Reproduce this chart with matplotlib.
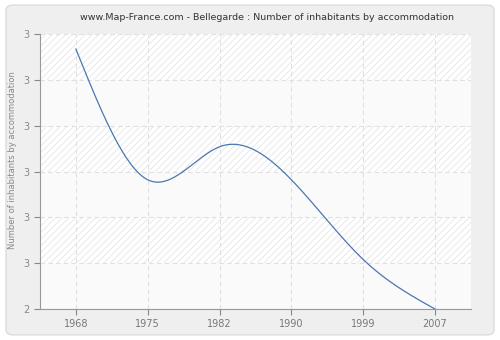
import numpy as np
import matplotlib
matplotlib.use("Agg")
import matplotlib.pyplot as plt
from matplotlib.patches import FancyBboxPatch, Rectangle

years = ["1968", "1975", "1982", "1990", "1999", "2007"]
values = [2.945, 2.47, 2.59, 2.47, 2.18, 2.0]
ytick_vals = [2.0, 2.1667, 2.3333, 2.5, 2.6667, 2.8333, 3.0]
ytick_labels = ["2", "3", "3", "3", "3", "3", "3"]


def natural_spline(x, y, n=300):
    # plain natural cubic spline, no scipy needed
    x = np.asarray(x, float)
    y = np.asarray(y, float)
    k = len(x)
    h = np.diff(x)
    A = np.zeros((k, k))
    b = np.zeros(k)
    A[0, 0] = A[-1, -1] = 1
    for i in range(1, k - 1):
        A[i, i - 1] = h[i - 1]
        A[i, i] = 2 * (h[i - 1] + h[i])
        A[i, i + 1] = h[i]
        b[i] = 3 * ((y[i + 1] - y[i]) / h[i] - (y[i] - y[i - 1]) / h[i - 1])
    c = np.linalg.solve(A, b)
    xs = np.linspace(x[0], x[-1], n)
    ys = np.empty_like(xs)
    for j, xv in enumerate(xs):
        i = min(np.searchsorted(x, xv, side="right") - 1, k - 2)
        d = (c[i + 1] - c[i]) / (3 * h[i])
        bb = (y[i + 1] - y[i]) / h[i] - h[i] * (2 * c[i] + c[i + 1]) / 3
        t = xv - x[i]
        ys[j] = y[i] + bb * t + c[i] * t ** 2 + d * t ** 3
    return xs, ys


fig = plt.figure(figsize=(5, 3.4), dpi=100)
fig.patch.set_facecolor("white")
fig.patches.append(FancyBboxPatch((0.012, 0.015), 0.976, 0.97,
                                  boxstyle="round,pad=0,rounding_size=0.015",
                                  transform=fig.transFigure, facecolor="#efefef",
                                  edgecolor="#dcdcdc", linewidth=1, zorder=-5))

ax = fig.add_axes([0.08, 0.091, 0.862, 0.809])
ax.set_facecolor("#fafafa")
plt.rcParams["hatch.linewidth"] = 0.6

x = np.arange(len(years))
ax.set_xlim(-0.5, len(years) - 0.5)
ax.set_ylim(ytick_vals[0], ytick_vals[-1])

# alternating hatched bands
for i in range(len(ytick_vals) - 1):
    if (len(ytick_vals) - 2 - i) % 2 == 0:
        ax.add_patch(Rectangle((-0.5, ytick_vals[i]), len(years),
                               ytick_vals[i + 1] - ytick_vals[i],
                               facecolor="white", edgecolor="#e6e6e6",
                               hatch="/////", linewidth=0, zorder=0))

ax.grid(True, color="#e0e0e0", linestyle=(0, (4, 3)), linewidth=0.8, zorder=1)
ax.set_axisbelow(True)

xs, ys = natural_spline(x, values)
ax.plot(xs, ys, color="#4a78b0", linewidth=0.9, zorder=3)

ax.set_xticks(x)
ax.set_xticklabels(years)
ax.set_yticks(ytick_vals)
ax.set_yticklabels(ytick_labels)
ax.tick_params(colors="#888888", labelsize=7, length=4, width=0.8)
ax.tick_params(axis="x", labelcolor="#777777")
for s in ["top", "right"]:
    ax.spines[s].set_visible(False)
for s in ["left", "bottom"]:
    ax.spines[s].set_color("#999999")
ax.set_ylabel("Number of inhabitants by accommodation", fontsize=6, color="#888888")
ax.yaxis.set_label_coords(-0.053, 0.54)

fig.text(0.534, 0.948, "www.Map-France.com - Bellegarde : Number of inhabitants by accommodation",
         ha="center", va="center", fontsize=6.8, color="#333333")

fig.savefig("out.png", dpi=100)
